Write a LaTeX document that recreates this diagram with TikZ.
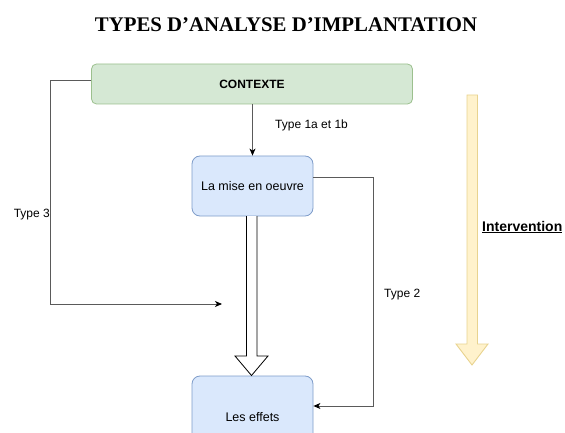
\documentclass[tikz,border=0pt]{standalone}
\usepackage{fontspec}
\setmainfont{Liberation Sans}
\newfontfamily\titlefont{Liberation Serif}
\usetikzlibrary{arrows.meta}
\definecolor{ctxfill}{HTML}{D5E8D4}
\definecolor{ctxline}{HTML}{9CC08E}
\definecolor{boxfill}{HTML}{DAE8FC}
\definecolor{boxline}{HTML}{7E9CC9}
\definecolor{yelfill}{HTML}{FFF2CC}
\definecolor{yelline}{HTML}{E8D38F}
\definecolor{wire}{HTML}{5A5A5A}
\tikzset{
  ctxbox/.style={draw=ctxline, fill=ctxfill, rounded corners=5pt, line width=0.8pt,
    minimum width=321pt, minimum height=40pt, inner sep=0pt,
    font=\fontsize{12}{14}\selectfont\bfseries},
  stagebox/.style={draw=boxline, fill=boxfill, rounded corners=8pt, line width=0.8pt,
    minimum width=121pt, inner sep=0pt, font=\fontsize{12.5}{15}\selectfont},
  link/.style={draw=wire, line width=0.9pt, -{Stealth[length=7pt,width=6pt,inset=2pt,color=black]}},
  tag/.style={font=\fontsize{12}{14}\selectfont, inner sep=0pt},
}
\begin{document}
\begin{tikzpicture}[x=1pt,y=-1pt]
\useasboundingbox (0,0) rectangle (565,433);
\clip (0,0) rectangle (565,433);

% title
\node[font=\titlefont\fontsize{20.8}{24}\selectfont\bfseries, anchor=base] (title) at (286,32)
  {TYPES D’ANALYSE D’IMPLANTATION};

% boxes
\node[ctxbox] (ctx) at (252,84) {CONTEXTE};
\node[stagebox, minimum height=60pt] (mise) at (252.5,186) {La mise en oeuvre};
\node[stagebox, minimum height=82pt] (eff) at (252.5,417) {Les effets};

% type 1a/1b
\draw[link] (mise.north |- ctx.south) -- (mise.north);
\node[tag, anchor=west] (t1) at (275,125) {Type 1a et 1b};

% type 3
\coordinate (t3end) at (222,304);
\draw[link] (ctx.west |- 0,80) -| (50,304) -- (t3end);
\node[tag, anchor=east] (t3) at (50,215) {Type 3};

% type 2
\draw[link] (mise.east |- 0,177) -| (373,406) -- (eff.east |- 0,406);
\node[tag, anchor=west] (t2) at (384,295) {Type 2};

% hollow arrow from mise to effets
\draw[line width=0.8pt, fill=white]
  (246.5,216) -- (246.5,356) -- (235,356) -- (251.5,375.5) -- (268,356) -- (257,356) -- (257,216);

% intervention arrow
\draw[draw=yelline, fill=yelfill, line width=0.9pt]
  (467,95) -- (477.5,95) -- (477.5,344) -- (488,344) -- (472,365) -- (456,344) -- (467,344) -- cycle;
\node[font=\fontsize{14}{16}\selectfont\bfseries, anchor=west, inner sep=0pt] (interv) at (482,227)
  {\underline{Intervention}};
\end{tikzpicture}
\end{document}
